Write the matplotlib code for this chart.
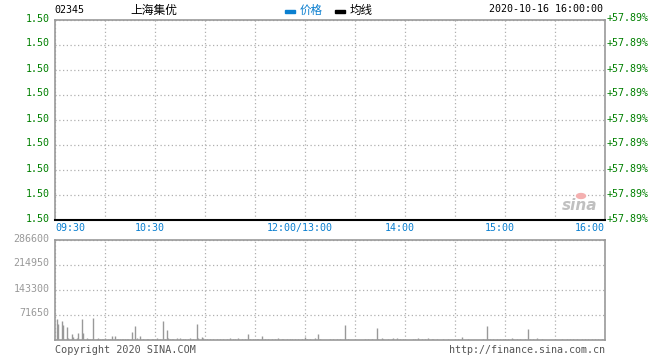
import matplotlib
matplotlib.use("Agg")
import matplotlib.pyplot as plt
from matplotlib.transforms import ScaledTranslation
from matplotlib.patches import Rectangle, Circle

plt.rcParams['font.family'] = ['DejaVu Sans Mono', 'Noto Sans CJK SC']

# data
code = "02345"
name = "上海集优"
stamp = "2020-10-16 16:00:00"
price_labels = ["1.50"] * 9
pct_labels = ["+57.89%"] * 9
time_ticks = [0, 60, 150, 210, 270, 330]
time_labels = ["09:30", "10:30", "12:00/13:00", "14:00", "15:00", "16:00"]
vol_ticks = [71650, 143300, 214950, 286600]

vol_minutes = [1, 2, 4, 5, 7, 8, 10, 11, 13, 14, 16, 17, 19, 20, 21, 22, 23, 25, 26, 27,
               28, 29, 30, 32, 33, 34, 36, 37, 38, 39, 40, 41, 42, 43, 44, 46, 48, 49, 51, 53,
               55, 56, 58, 59, 61, 63, 65, 66, 67, 68, 69, 70, 71, 73, 75, 77, 78, 80, 81, 83,
               85, 86, 88, 89, 91, 93, 95, 97, 99, 101, 103, 105, 107, 108, 110, 112, 114, 116, 117, 119,
               121, 122, 124, 126, 128, 130, 132, 134, 136, 137, 139, 141, 142, 144, 146, 148, 150, 151, 153, 156,
               158, 159, 165, 167, 169, 171, 174, 176, 186, 188, 190, 193, 194, 196, 197, 200, 202, 203, 205, 207,
               209, 215, 216, 218, 220, 222, 224, 226, 227, 229, 233, 236, 242, 244, 248, 257, 259, 260, 261, 263,
               265, 267, 269, 270, 272, 274, 275, 277, 279, 282, 284, 285, 287, 289, 292, 304, 307, 309, 311, 313,
               316, 318, 320, 322, 324, 326, 328]
vol_values = [60000, 46000, 54000, 43000, 37000, 6000, 17000, 8600, 6000, 20000, 60000, 20000, 6000, 3500, 3500, 3500, 63000, 3500, 6000, 3500,
              3500, 3500, 6000, 3500, 3500, 11500, 11500, 3500, 3500, 3500, 3500, 3500, 3500, 3500, 3500, 23000, 40000, 6000, 11500, 3500,
              3500, 3500, 3500, 3500, 6000, 3500, 55000, 3500, 29000, 6000, 3500, 3500, 3500, 6000, 6000, 3500, 3500, 3500, 6000, 3500,
              46000, 6000, 8600, 6000, 3500, 3500, 3500, 3500, 3500, 3500, 3500, 6000, 3500, 3500, 6000, 3500, 3500, 17000, 3500, 3500,
              3500, 3500, 11500, 3500, 3500, 3500, 3500, 6000, 3500, 3500, 3500, 3500, 3500, 3500, 3500, 3500, 8600, 3500, 3500, 6000,
              17000, 3500, 3500, 3500, 3500, 3500, 43000, 3500, 3500, 3500, 3500, 34000, 3500, 6000, 3500, 3500, 3500, 6000, 6000, 3500,
              3500, 3500, 3500, 6000, 3500, 3500, 6000, 3500, 3500, 3500, 3500, 3500, 3500, 8600, 3500, 3500, 40000, 3500, 3500, 3500,
              3500, 3500, 3500, 3500, 3500, 6000, 3500, 3500, 3500, 3500, 31500, 3500, 3500, 6000, 3500, 3500, 3500, 3500, 3500, 3500,
              3500, 3500, 3500, 3500, 3500, 3500, 3500]

W, H = 660, 360
green = '#008000'
blue = '#0a7fd0'
grid_c = '#b0b0b0'
border = '#999999'

fig = plt.figure(figsize=(W / 100, H / 100), dpi=100)


def box(x0, y0, x1, y1):
    return [x0 / W, 1 - y1 / H, (x1 - x0) / W, (y1 - y0) / H]


def px(x, y):
    return x / W, 1 - y / H


up = ScaledTranslation(0, 2.5 / 100, fig.dpi_scale_trans)

# price panel
ax = fig.add_axes(box(55, 20, 605, 220))
ax.set_xlim(0, 330)
ax.set_ylim(0, 8)
ax.set_xticks(range(0, 331, 30), minor=True)
ax.set_xticks(time_ticks)
ax.set_xticklabels(time_labels, color=blue, fontsize=7.2)
ax.set_yticks(range(9))
ax.set_yticklabels(price_labels, color=green, fontsize=7.2)
ax.tick_params(length=0, pad=4, which='both')
ax.tick_params(axis='x', pad=2)
ax.grid(True, which='both', color=grid_c, linestyle=(0, (1, 2)), linewidth=0.9)
for s in ['top', 'left', 'right']:
    ax.spines[s].set_color(border)
    ax.spines[s].set_linewidth(1.2)
ax.spines['bottom'].set_color('black')
ax.spines['bottom'].set_linewidth(1.5)
for lab in ax.get_yticklabels():
    lab.set_transform(lab.get_transform() + up)
xl = ax.get_xticklabels()
for i, lab in enumerate(xl):
    if i == 0:
        lab.set_ha('left')
    elif i == len(xl) - 1:
        lab.set_ha('right')
    else:
        lab.set_transform(lab.get_transform() + ScaledTranslation(-5 / 100, 0, fig.dpi_scale_trans))

ax2 = ax.twinx()
ax2.set_ylim(0, 8)
ax2.set_yticks(range(9))
ax2.set_yticklabels(pct_labels, color=green, fontsize=7.2)
ax2.tick_params(length=0, pad=1)
for s in ax2.spines.values():
    s.set_visible(False)
for lab in ax2.get_yticklabels():
    lab.set_transform(lab.get_transform() + up)

# volume panel
vx = fig.add_axes(box(55, 240, 605, 340))
vx.set_xlim(0, 330)
vx.set_ylim(0, 286600)
vx.set_xticks(range(0, 331, 30))
vx.set_xticklabels([])
vx.set_yticks(vol_ticks)
vx.set_yticklabels([str(v) for v in vol_ticks], color='#999999', fontsize=7.2)
vx.tick_params(length=0, pad=4)
vx.grid(True, color=grid_c, linestyle=(0, (1, 2)), linewidth=0.9)
for s in vx.spines.values():
    s.set_color(border)
    s.set_linewidth(1.2)
for lab in vx.get_yticklabels():
    lab.set_transform(lab.get_transform() + up)
vx.vlines(vol_minutes, 0, vol_values, color='#999999', linewidth=1, zorder=3)

# header
fig.text(*px(54, 10), code, fontsize=7.2, va='center', ha='left')
fig.text(*px(130, 10), name, fontsize=8.5, va='center', ha='left', family=['Noto Sans CJK SC'])
fig.add_artist(Rectangle(px(285, 12.5), 10 / W, 3 / H, color=blue, transform=fig.transFigure))
fig.text(*px(300, 10), "价格", fontsize=8.3, color=blue, va='center', ha='left', family=['Noto Sans CJK SC'])
fig.add_artist(Rectangle(px(335, 12.5), 10 / W, 3 / H, color='black', transform=fig.transFigure))
fig.text(*px(350, 10), "均线", fontsize=8.3, color='black', va='center', ha='left', family=['Noto Sans CJK SC'])
fig.text(*px(603, 9), stamp, fontsize=7.2, va='center', ha='right')

# footer
fig.text(*px(55, 350), "Copyright 2020 SINA.COM", fontsize=7.3, color='#555555', va='center', ha='left')
fig.text(*px(605, 350), "http://finance.sina.com.cn", fontsize=7.2, color='#555555', va='center', ha='right')

# sina watermark
fig.add_artist(Circle(px(581, 196), 4.5 / W, color='#f4b0b0', transform=fig.transFigure))
fig.text(*px(580, 206), "sina", fontsize=11, fontstyle='italic', fontweight='bold',
         color='#c0c0c0', va='center', ha='center', family=['DejaVu Sans'])

fig.savefig("out.png", dpi=100)
